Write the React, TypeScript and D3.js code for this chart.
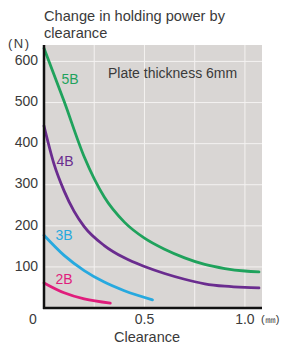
import React from "react";
import * as d3 from "d3";

const clearance5B = [0, 0.1, 0.2, 0.3, 0.4, 0.5, 0.6, 0.7, 0.8, 0.9, 1.0, 1.07];
const power5B = [632, 503, 368, 270, 209, 170, 143, 122, 106, 96, 90, 88];
const clearance4B = [0, 0.05, 0.1, 0.15, 0.2, 0.3, 0.4, 0.5, 0.6, 0.7, 0.8, 0.9, 1.0, 1.07];
const power4B = [443, 350, 285, 235, 198, 152, 122, 101, 84, 70, 59, 53, 50, 49];
const clearance3B = [0, 0.1, 0.2, 0.3, 0.4, 0.54];
const power3B = [177, 128, 91, 63, 42, 20];
const clearance2B = [0, 0.1, 0.2, 0.33];
const power2B = [61, 37, 22, 12];

const seriesNames = ["5B", "4B", "3B", "2B"];
const seriesColors = ["#1fa25c", "#6a2c8f", "#27a9df", "#e01d7c"];
const labelAt = [
  [0.13, 555],
  [0.105, 355],
  [0.1, 175],
  [0.1, 68],
];

const yTicks = [100, 200, 300, 400, 500, 600];
const xGrid = [0.25, 0.5, 0.75, 1.0];
const xTickLabels = [
  { v: 0.5, t: "0.5" },
  { v: 1.0, t: "1.0" },
];

export default function App() {
  const W = 283, H = 347;
  const x = d3.scaleLinear().domain([0, 1.085]).range([44, 262]);
  const y = d3.scaleLinear().domain([0, 640]).range([308, 45]);
  const series = [
    [clearance5B, power5B],
    [clearance4B, power4B],
    [clearance3B, power3B],
    [clearance2B, power2B],
  ];
  const line = d3
    .line<[number, number]>()
    .x((d) => x(d[0]))
    .y((d) => y(d[1]))
    .curve(d3.curveMonotoneX);
  const font = "'Liberation Sans', Arial, sans-serif";
  const txt = "#3a3a3a";
  return (
    <svg width={W} height={H} style={{ position: "absolute", left: 0, top: 0, background: "#fff" }} fontFamily={font}>
      <rect x={x(0)} y={y(640)} width={x(1.085) - x(0)} height={y(0) - y(640)} fill="#d9d6d4" />
      {yTicks.map((t) => (
        <line key={"h" + t} x1={x(0)} x2={x(1.085)} y1={y(t)} y2={y(t)} stroke="#f4f2f1" strokeWidth={1} />
      ))}
      {xGrid.map((t) => (
        <line key={"v" + t} x1={x(t)} x2={x(t)} y1={y(640)} y2={y(0)} stroke="#f4f2f1" strokeWidth={1} />
      ))}
      {series.map(([xs, ys], i) => (
        <path
          key={i}
          d={line(xs.map((v, j) => [v, ys[j]] as [number, number])) || ""}
          fill="none"
          stroke={seriesColors[i]}
          strokeWidth={2.8}
          strokeLinecap="round"
        />
      ))}
      {seriesNames.map((n, i) => (
        <text key={n} x={x(labelAt[i][0])} y={y(labelAt[i][1])} fill={seriesColors[i]} fontSize={14} textAnchor="middle" dominantBaseline="middle">
          {n}
        </text>
      ))}
      <line x1={x(0)} x2={x(0)} y1={y(640)} y2={y(0) + 1} stroke="#111" strokeWidth={2.5} />
      <line x1={x(0) - 1} x2={x(1.085)} y1={y(0)} y2={y(0)} stroke="#111" strokeWidth={2.5} />
      {yTicks.map((t) => (
        <text key={"yt" + t} x={38} y={y(t)} fill={txt} fontSize={14} textAnchor="end" dominantBaseline="middle">
          {t}
        </text>
      ))}
      <text x={33} y={320} fill={txt} fontSize={14} textAnchor="middle" dominantBaseline="middle">0</text>
      {xTickLabels.map((d) => (
        <text key={d.t} x={x(d.v)} y={320} fill={txt} fontSize={14} textAnchor="middle" dominantBaseline="middle">
          {d.t}
        </text>
      ))}
      <text x={261} y={320} fill={txt} fontSize={11} dominantBaseline="middle">(㎜)</text>
      <text x={147} y={338} fill={txt} fontSize={14.5} textAnchor="middle" dominantBaseline="middle">Clearance</text>
      <text x={8} y={45} fill={txt} fontSize={13} letterSpacing={1.5} dominantBaseline="middle">(N)</text>
      <text x={44} y={17} fill={txt} fontSize={14.6} dominantBaseline="middle">Change in holding power by</text>
      <text x={44} y={34} fill={txt} fontSize={14.6} dominantBaseline="middle">clearance</text>
      <text x={108} y={74} fill={txt} fontSize={14} dominantBaseline="middle">Plate thickness 6mm</text>
    </svg>
  );
}
